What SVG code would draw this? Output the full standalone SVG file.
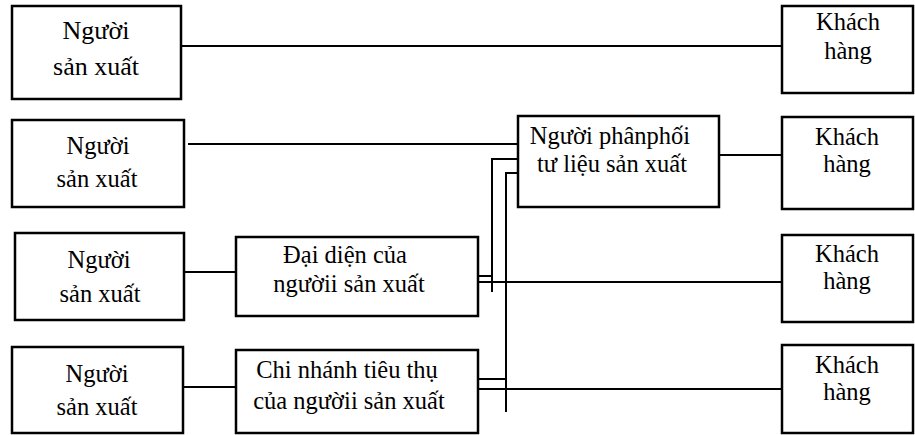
<svg xmlns="http://www.w3.org/2000/svg" width="915" height="435" viewBox="0 0 915 435">
  <style>
    .box { fill: #ffffff; stroke: #000000; stroke-width: 2.5; }
    .ln { fill: none; stroke: #000000; stroke-width: 2; }
    .t { font-family: "Liberation Serif", "Times New Roman", serif; font-size: 24.5px; fill: #000000; text-anchor: middle; }
    .big { font-size: 26px; }
  </style>
  <rect width="915" height="435" fill="#ffffff"/>

  <!-- connectors -->
  <g id="connectors" class="ln">
    <path d="M181 46 H782"/>
    <path d="M188 144 H518"/>
    <path d="M719 155 H782"/>
    <path d="M184 272 H236"/>
    <path d="M184 387 H236"/>
    <path d="M478 282 H782"/>
    <path d="M478 389 H782"/>
    <path d="M478 276 H492 M492 292 V159 H518"/>
    <path d="M478 379 H506 M506 412 V173 H518"/>
  </g>

  <!-- producers -->
  <g id="producer1">
    <rect class="box" x="12" y="6" width="169" height="93"/>
    <text class="t big" x="96" y="39">Người</text>
    <text class="t big" x="96" y="75">sản xuất</text>
  </g>
  <g id="producer2">
    <rect class="box" x="12" y="120" width="172" height="87"/>
    <text class="t" x="98" y="154">Người</text>
    <text class="t" x="97" y="187">sản xuất</text>
  </g>
  <g id="producer3">
    <rect class="box" x="15" y="233" width="169" height="87"/>
    <text class="t" x="99" y="268">Người</text>
    <text class="t" x="100" y="302">sản xuất</text>
  </g>
  <g id="producer4">
    <rect class="box" x="12" y="347" width="171" height="86"/>
    <text class="t" x="97" y="382">Người</text>
    <text class="t" x="97" y="415">sản xuất</text>
  </g>

  <!-- intermediaries -->
  <g id="distributor">
    <rect class="box" x="518" y="116" width="201" height="91"/>
    <text class="t" x="610" y="144">Người phânphối</text>
    <text class="t" x="612" y="172">tư liệu sản xuất</text>
  </g>
  <g id="agent">
    <rect class="box" x="236" y="237" width="242" height="79"/>
    <text class="t" x="345" y="263">Đại diện của</text>
    <text class="t" x="349" y="292">ngườii sản xuất</text>
  </g>
  <g id="branch">
    <rect class="box" x="236" y="350" width="242" height="83"/>
    <text class="t" x="347" y="378">Chi nhánh tiêu thụ</text>
    <text class="t" x="349" y="409">của ngườii sản xuất</text>
  </g>

  <!-- customers -->
  <g id="customer1">
    <rect class="box" x="782" y="6" width="131" height="87"/>
    <text class="t" x="848" y="30">Khách</text>
    <text class="t" x="848" y="59">hàng</text>
  </g>
  <g id="customer2">
    <rect class="box" x="782" y="117" width="131" height="92"/>
    <text class="t" x="847" y="145">Khách</text>
    <text class="t" x="847" y="172">hàng</text>
  </g>
  <g id="customer3">
    <rect class="box" x="782" y="235" width="131" height="87"/>
    <text class="t" x="847" y="262">Khách</text>
    <text class="t" x="847" y="289">hàng</text>
  </g>
  <g id="customer4">
    <rect class="box" x="782" y="345" width="131" height="88"/>
    <text class="t" x="847" y="373">Khách</text>
    <text class="t" x="847" y="400">hàng</text>
  </g>
</svg>
